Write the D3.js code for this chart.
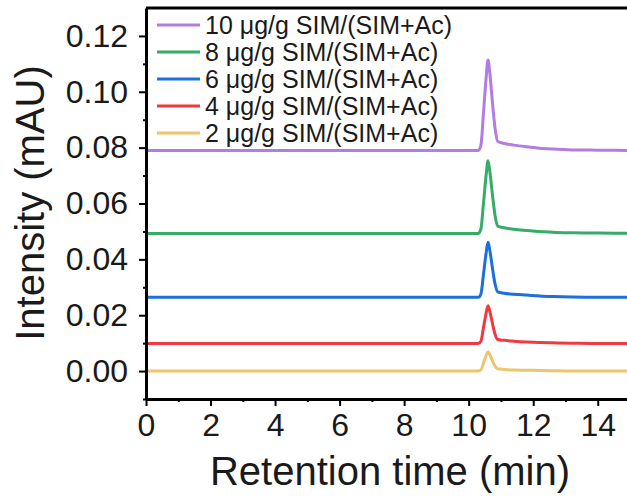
<!DOCTYPE html>
<html>
<head>
<meta charset="utf-8">
<script src="https://d3js.org/d3.v7.min.js"></script>
<style>
    body { margin: 0; background: #fff; }
    text { font-family: "Liberation Sans", Arial, sans-serif; fill: #1a1a1a; }
</style>
</head>
<body>
<script>
//retention times shared by all traces (min)
var times = [0, 3, 6, 9, 10.3, 10.38, 10.46, 10.54, 10.6, 10.66, 10.74, 10.82, 10.9, 11.1, 11.4, 11.8, 12.2, 12.6, 13.2, 14, 15];

//intensity of each trace (mAU)
var conc10 = [0.0790, 0.0790, 0.0790, 0.0790, 0.0790, 0.0809, 0.0926, 0.1049, 0.1114, 0.1062, 0.0958, 0.0868, 0.0822, 0.0815, 0.0809, 0.0803, 0.0798, 0.0795, 0.0792, 0.0791, 0.0790];
var conc8 = [0.0493, 0.0493, 0.0493, 0.0493, 0.0493, 0.0509, 0.0602, 0.0701, 0.0753, 0.0711, 0.0628, 0.0555, 0.0519, 0.0513, 0.0508, 0.0503, 0.0500, 0.0497, 0.0495, 0.0494, 0.0493];
var conc6 = [0.0264, 0.0264, 0.0264, 0.0264, 0.0264, 0.0276, 0.0347, 0.0422, 0.0461, 0.0429, 0.0366, 0.0311, 0.0284, 0.0279, 0.0275, 0.0272, 0.0269, 0.0267, 0.0265, 0.0264, 0.0264];
var conc4 = [0.0099, 0.0099, 0.0099, 0.0099, 0.0099, 0.0107, 0.0156, 0.0207, 0.0234, 0.0212, 0.0169, 0.0131, 0.0113, 0.0110, 0.0107, 0.0104, 0.0102, 0.0101, 0.0100, 0.0099, 0.0099];
var conc2 = [0.0000, 0.0000, 0.0000, 0.0000, 0.0000, 0.0004, 0.0029, 0.0055, 0.0069, 0.0058, 0.0036, 0.0017, 0.0008, 0.0006, 0.0004, 0.0003, 0.0002, 0.0001, 0.0000, 0.0000, 0.0000];

var labels = ["10 μg/g SIM/(SIM+Ac)", "8 μg/g SIM/(SIM+Ac)", "6 μg/g SIM/(SIM+Ac)", "4 μg/g SIM/(SIM+Ac)", "2 μg/g SIM/(SIM+Ac)"];
var colors = ["#b37ce2", "#37ab68", "#1c6fde", "#ef3b3f", "#ecc56d"];

var xTicks = [0, 2, 4, 6, 8, 10, 12, 14];
var yTicks = [0, 0.02, 0.04, 0.06, 0.08, 0.10, 0.12];

window.onload = function(){
    var w = 627, h = 497;
    var svg = d3.select("body")
        .append("svg")
        .attr("width", w)
        .attr("height", h);

    //scales -- right edge of the frame falls just outside the picture
    var x = d3.scaleLinear().domain([0, 15]).range([146, 630]);
    var y = d3.scaleLinear().domain([-0.01, 0.13]).range([399, 8]);

    var series = [conc10, conc8, conc6, conc4, conc2];

    var line = d3.line()
        .x(function(d){ return x(d[0]); })
        .y(function(d){ return y(d[1]); })
        .curve(d3.curveMonotoneX);

    //traces
    svg.selectAll(".trace")
        .data(series)
        .enter()
        .append("path")
        .attr("class", "trace")
        .attr("d", function(vals){
            return line(times.map(function(t, i){ return [t, vals[i]]; }));
        })
        .style("fill", "none")
        .style("stroke", function(d, i){ return colors[i]; })
        .style("stroke-width", 3)
        .style("stroke-linejoin", "round");

    //top frame line
    svg.append("line")
        .attr("x1", x(0)).attr("x2", x(15))
        .attr("y1", y(0.13)).attr("y2", y(0.13))
        .style("stroke", "#000").style("stroke-width", 3);

    //x axis with minor ticks
    var xMinor = d3.axisBottom(x).tickValues(d3.range(1, 15, 2)).tickSize(3).tickFormat("");
    svg.append("g")
        .attr("transform", "translate(0," + y(-0.01) + ")")
        .call(xMinor)
        .call(function(g){ g.select(".domain").remove(); })
        .selectAll("line").style("stroke-width", 2);

    var xAxis = d3.axisBottom(x).tickValues(xTicks).tickSize(7).tickPadding(6).tickSizeOuter(0);
    var gx = svg.append("g")
        .attr("class", "axis")
        .attr("transform", "translate(0," + y(-0.01) + ")")
        .call(xAxis);
    gx.select(".domain").style("stroke-width", 3);
    gx.selectAll("line").style("stroke-width", 2);
    gx.selectAll("text").style("font-size", "32px").attr("dy", "0.74em");

    //y axis with minor ticks
    var yMinor = d3.axisLeft(y).tickValues([-0.01, 0.01, 0.03, 0.05, 0.07, 0.09, 0.11]).tickSize(3).tickFormat("");
    svg.append("g")
        .attr("transform", "translate(" + x(0) + ",0)")
        .call(yMinor)
        .call(function(g){ g.select(".domain").remove(); })
        .selectAll("line").style("stroke-width", 2);

    var yAxis = d3.axisLeft(y).tickValues(yTicks).tickSize(7).tickPadding(11).tickSizeOuter(0)
        .tickFormat(d3.format(".2f"));
    var gy = svg.append("g")
        .attr("class", "axis")
        .attr("transform", "translate(" + x(0) + ",0)")
        .call(yAxis);
    gy.select(".domain").style("stroke-width", 3);
    gy.selectAll("line").style("stroke-width", 2);
    gy.selectAll("text").style("font-size", "32px");

    //axis titles
    svg.append("text")
        .attr("x", 390)
        .attr("y", 485)
        .attr("text-anchor", "middle")
        .style("font-size", "40px")
        .text("Retention time (min)");

    svg.append("text")
        .attr("transform", "translate(44,203) rotate(-90)")
        .attr("text-anchor", "middle")
        .style("font-size", "40px")
        .text("Intensity (mAU)");

    //legend
    var legend = svg.selectAll(".legend")
        .data(labels)
        .enter()
        .append("g")
        .attr("class", "legend")
        .attr("transform", function(d, i){ return "translate(157," + (25 + i * 27) + ")"; });

    legend.append("line")
        .attr("x1", 0).attr("x2", 43)
        .style("stroke", function(d, i){ return colors[i]; })
        .style("stroke-width", 3);

    legend.append("text")
        .attr("x", 48)
        .attr("dy", "0.36em")
        .style("font-size", "25px")
        .text(function(d){ return d; });
};
</script>
</body>
</html>
